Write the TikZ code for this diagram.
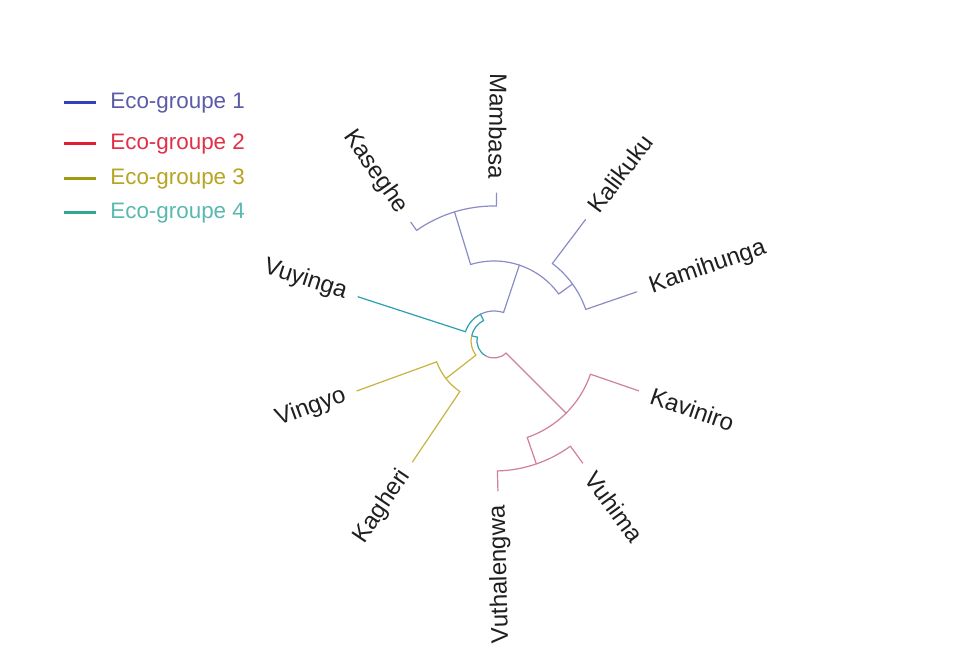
\documentclass[tikz,border=0pt]{standalone}
\usepackage{fontspec}
\setmainfont{Liberation Sans}
\definecolor{cBlue}{HTML}{8A8CC8}
\definecolor{cTeal}{HTML}{2AA0B0}
\definecolor{cYel}{HTML}{C8B440}
\definecolor{cPink}{HTML}{D0809A}
\definecolor{lBlue}{HTML}{3040C0}
\definecolor{lRed}{HTML}{E02030}
\definecolor{lOlive}{HTML}{A09A10}
\definecolor{lTeal}{HTML}{30A890}
\definecolor{tBlue}{HTML}{5B5BA8}
\definecolor{tRed}{HTML}{E03048}
\definecolor{tOlive}{HTML}{B8A420}
\definecolor{tTeal}{HTML}{5AB8B0}
\begin{document}
\begin{tikzpicture}[x=0.5pt,y=0.5pt,
  br/.style={line width=0.6pt,line cap=round},
  legline/.style={line width=1.5pt},
  legtext/.style={anchor=west,inner sep=0pt,font=\fontsize{11.2}{13}\selectfont},
  lab/.style={inner sep=0pt,text=black!88,font=\fontsize{12}{14}\selectfont},
  labR/.style={lab,anchor=west},
  labL/.style={lab,anchor=east}]
\useasboundingbox (0,0) rectangle (977,669);
\fill[white] (0,0) rectangle (977,669);
% legend
\coordinate (g1a) at (64,566); \coordinate (g1b) at (96,566);
\coordinate (g2a) at (64,525); \coordinate (g2b) at (96,525);
\coordinate (g3a) at (64,490); \coordinate (g3b) at (96,490);
\coordinate (g4a) at (64,456); \coordinate (g4b) at (96,456);
\draw[legline,lBlue] (g1a) -- (g1b);
\draw[legline,lRed] (g2a) -- (g2b);
\draw[legline,lOlive] (g3a) -- (g3b);
\draw[legline,lTeal] (g4a) -- (g4b);
\node[legtext,text=tBlue] (t1) at (110,566) {Eco-groupe 1};
\node[legtext,text=tRed] (t2) at (110,525) {Eco-groupe 2};
\node[legtext,text=tOlive] (t3) at (110,490) {Eco-groupe 3};
\node[legtext,text=tTeal] (t4) at (110,456) {Eco-groupe 4};
% tree
\begin{scope}[shift={(494,328)}]
% root arc
\coordinate (root) at (167:17);
\draw[br,cTeal] (root) arc[start angle=167,end angle=241,radius=17] coordinate (rootm);
\draw[br,cPink] (rootm) arc[start angle=241,end angle=315,radius=17] coordinate (pk0);
% node (B,V),Y
\coordinate (n2) at (167:23);
\draw[br,cTeal] (root) -- (n2);
\coordinate (n2s) at (116.75:23);
\draw[br,cTeal] (n2s) arc[start angle=116.75,end angle=167,radius=23];
\draw[br,cYel] (n2) arc[start angle=167,end angle=218,radius=23] coordinate (y0);
% node (B,V)
\coordinate (n3) at (116.75:30);
\draw[br,cTeal] (n2s) -- (n3);
\coordinate (b0) at (71.5:30);
\draw[br,cBlue] (b0) arc[start angle=71.5,end angle=116.75,radius=30];
\draw[br,cTeal] (n3) arc[start angle=116.75,end angle=162,radius=30] coordinate (v0);
% Vuyinga
\coordinate (vuy) at (162:143);
\draw[br,cTeal] (v0) -- (vuy);
\node[labL,rotate=-18] (Lvuy) at (162:155) {Vuyinga};
% blue clade
\coordinate (b1) at (71.5:80);
\draw[br,cBlue] (b0) -- (b1);
\coordinate (b2) at (107:80);
\coordinate (b3) at (36:80);
\draw[br,cBlue] (b2) arc[start angle=107,end angle=36,radius=80];
\coordinate (b4) at (107:135);
\draw[br,cBlue] (b2) -- (b4);
\coordinate (b5) at (125:135);
\draw[br,cBlue] (b5) arc[start angle=125,end angle=89,radius=135] coordinate (b6);
\coordinate (kas) at (125:145);
\coordinate (mam) at (89:148);
\draw[br,cBlue] (b5) -- (kas);
\draw[br,cBlue] (b6) -- (mam);
\node[labL,rotate=-55] (Lkas) at (125:159) {Kaseghe};
\node[labL,rotate=-91] (Lmam) at (89:162) {Mambasa};
\coordinate (b7) at (36:97);
\draw[br,cBlue] (b3) -- (b7);
\coordinate (b8) at (53:97);
\draw[br,cBlue] (b8) arc[start angle=53,end angle=19,radius=97] coordinate (b9);
\coordinate (kal) at (53:152);
\coordinate (kmh) at (19:151);
\draw[br,cBlue] (b8) -- (kal);
\draw[br,cBlue] (b9) -- (kmh);
\node[labR,rotate=53] (Lkal) at (53:164) {Kalikuku};
\node[labR,rotate=19] (Lkmh) at (19:165) {Kamihunga};
% yellow clade
\coordinate (y1) at (218:61);
\draw[br,cYel] (y0) -- (y1);
\coordinate (y2) at (200:61);
\draw[br,cYel] (y2) arc[start angle=200,end angle=236,radius=61] coordinate (y3);
\coordinate (vin) at (200:146);
\coordinate (kag) at (236:146);
\draw[br,cYel] (y2) -- (vin);
\draw[br,cYel] (y3) -- (kag);
\node[labL,rotate=20] (Lvin) at (200:158) {Vingyo};
\node[labL,rotate=56] (Lkag) at (236:158) {Kagheri};
% pink clade
\coordinate (p1) at (315:102);
\draw[br,cPink] (pk0) -- (p1);
\coordinate (p2) at (341:102);
\draw[br,cPink] (p2) arc[start angle=341,end angle=289,radius=102] coordinate (p3);
\coordinate (kav) at (341:153);
\draw[br,cPink] (p2) -- (kav);
\node[labR,rotate=-19] (Lkav) at (341:166) {Kaviniro};
\coordinate (p4) at (289:130);
\draw[br,cPink] (p3) -- (p4);
\coordinate (p5) at (271.5:130);
\draw[br,cPink] (p5) arc[start angle=271.5,end angle=306,radius=130] coordinate (p6);
\coordinate (vut) at (271.5:150);
\coordinate (vuh) at (306:151);
\draw[br,cPink] (p5) -- (vut);
\draw[br,cPink] (p6) -- (vuh);
\node[labL,rotate=91.5] (Lvut) at (271.5:164) {Vuthalengwa};
\node[labR,rotate=-54] (Lvuh) at (306:164) {Vuhima};
\end{scope}
\end{tikzpicture}
\end{document}
